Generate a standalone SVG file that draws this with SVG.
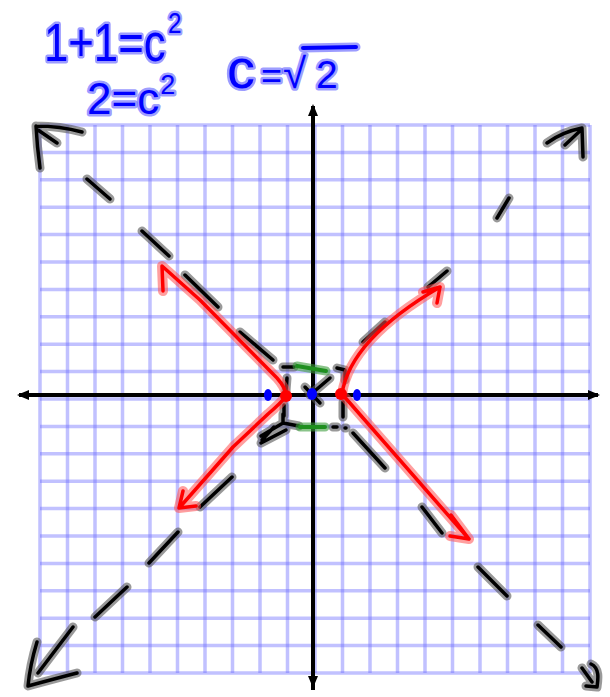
<svg xmlns="http://www.w3.org/2000/svg" xmlns:xlink="http://www.w3.org/1999/xlink" width="610" height="697" viewBox="0 0 610 697">
<style>
.grid{fill:none;stroke:#6b6bff;stroke-opacity:0.42;stroke-width:3.5}
.axis{fill:none;stroke:#000;stroke-width:4}
.kh{fill:none;stroke:#555;stroke-opacity:0.6;stroke-width:9;stroke-linecap:round;stroke-linejoin:round}
.kc{fill:none;stroke:#000;stroke-width:3.5;stroke-linecap:round;stroke-linejoin:round}
.rh{fill:none;stroke:#ff5050;stroke-opacity:0.55;stroke-width:10;stroke-linecap:round;stroke-linejoin:round}
.rc{fill:none;stroke:#ff0000;stroke-width:3.5;stroke-linecap:round;stroke-linejoin:round}
.gh{fill:none;stroke:#3c9c3c;stroke-opacity:0.6;stroke-width:9;stroke-linecap:round}
.gc{fill:none;stroke:#1f8f1f;stroke-width:4;stroke-linecap:round}
.bt{font-family:"Liberation Sans","DejaVu Sans",sans-serif;fill:#0000ff;stroke:#4a4aff;stroke-opacity:0.55;stroke-width:5;paint-order:stroke fill;stroke-linejoin:round}
.bl{fill:none;stroke:#0000ff;stroke-width:4;stroke-linecap:round}
.blh{fill:none;stroke:#4a4aff;stroke-opacity:0.55;stroke-width:9;stroke-linecap:round}
</style>
<defs>
<marker id="ah" viewBox="0 0 12 10" refX="10" refY="5" markerWidth="12" markerHeight="10" markerUnits="userSpaceOnUse" orient="auto">
<path d="M0,0 L12,5 L0,10 Z" fill="#000"/>
</marker>
<path id="asym" d="M82,132 Q60,126 36,126 M36,126 Q37,146 40,168 M38,130 L57,143 M87,179 L110,199 M142,231 L169,256 M185,275 L218,307 M240,332 L273,360 M547,143 Q562,132 582,128 M582,128 L583,157 M565,145 L581,130 M509,198 L497,218 M447,271 L428,287 M385,322 L363,342 M353,433 L385,468 M422,507 L442,533 M478,567 L507,596 M538,625 L561,647 M582,668 L592,682 M591,664 C600,668 598,680 597,687 L586,686 M232,477 L200,507 M178,532 L149,563 M127,587 L95,617 M73,627 L38,673 M37,642 Q30,665 28,686 Q50,680 77,673"/>
<path id="box" d="M283,367 L294,367 M337,368 L345,370 L345,380 M287,378 L286,391 M284,405 L284,416 M343,402 L343,417 M283,423 L299,426 M333,427 L337,427 M345,428 L346,428 M305,387 L320,403 M310,395 L330,378 M283,414 L283,423 M283,423 L261,436 M286,430 L261,443 M274,427 L262,440"/>
<path id="hyp" d="M163,291 L162,266 L200,300 L277,378 Q286,388 286,396 Q281,403 268,414 L233,447 L180,507 M183,491 L179,508 L196,506 M342,394 C347,360 375,325 440,287 M423,292 L440,287 L437,303 M342,394 L469,539 M451,515 L469,539 L450,536"/>
</defs>

<g id="grid">
<path class="grid" d="M40,125V673M67.5,125V673M95,125V673M122.5,125V673M150,125V673M177.5,125V673M205,125V673M232.5,125V673M260,125V673M287.5,125V673M315,125V673M342.5,125V673M370,125V673M397.5,125V673M425,125V673M452.5,125V673M480,125V673M507.5,125V673M535,125V673M562.5,125V673M590,125V673"/>
<path class="grid" d="M40,125H590M40,152.4H590M40,179.8H590M40,207.2H590M40,234.6H590M40,262H590M40,289.4H590M40,316.8H590M40,344.2H590M40,371.6H590M40,399H590M40,426.4H590M40,453.8H590M40,481.2H590M40,508.6H590M40,536H590M40,563.4H590M40,590.8H590M40,618.2H590M40,645.6H590M40,673H590"/>
</g>

<g id="axes">
<path class="axis" d="M313,690 L313,106" marker-end="url(#ah)"/>
<path class="axis" d="M313,396 L313,686" marker-end="url(#ah)"/>
<path class="axis" d="M313,395 L19,395" marker-end="url(#ah)"/>
<path class="axis" d="M313,395 L598,395" marker-end="url(#ah)"/>
</g>

<g id="asymptotes">
<use xlink:href="#asym" class="kh"/>
<use xlink:href="#asym" class="kc"/>
<use xlink:href="#box" class="kh"/>
<use xlink:href="#box" class="kc"/>
</g>

<g id="green-marks">
<path class="gh" d="M297,366 L326,371 M300,427 L325,427"/>
<path class="gc" d="M297,366 L326,371 M300,427 L325,427"/>
</g>

<g id="hyperbola">
<use xlink:href="#hyp" class="rh"/>
<use xlink:href="#hyp" class="rc"/>
<circle cx="286" cy="396" r="6" fill="#ff0000"/>
<circle cx="341" cy="394" r="6" fill="#ff0000"/>
</g>

<g id="foci" fill="#0000ff">
<ellipse cx="268" cy="395" rx="4" ry="6"/>
<ellipse cx="357" cy="395" rx="4" ry="6"/>
<ellipse cx="312" cy="394" rx="5" ry="6"/>
</g>

<g id="equations">
<text class="bt" transform="translate(44,61) scale(0.81,1)" font-size="54">1+1=c<tspan font-size="30" dx="3" dy="-28">2</tspan></text>
<text class="bt" x="87" y="114" font-size="44">2=c<tspan font-size="27" dx="1" dy="-20">2</tspan></text>
<text class="bt" y="88"><tspan x="227" font-size="56">c</tspan><tspan x="261" font-size="36">=</tspan><tspan x="283" font-size="42">√</tspan><tspan x="316" font-size="39">2</tspan></text>
<path class="blh" d="M303,48 L356,47"/>
<path class="bl" d="M303,48 L356,47"/>
</g>
</svg>
